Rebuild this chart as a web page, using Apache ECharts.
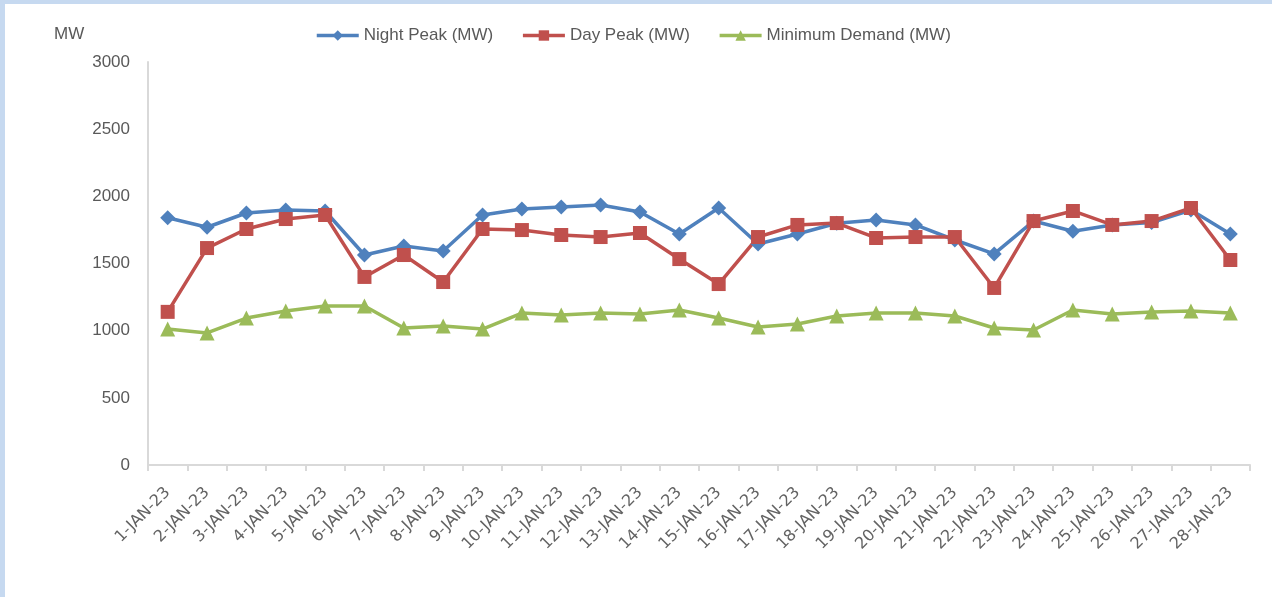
<!DOCTYPE html>
<html>
<head>
<meta charset="utf-8">
<script src="https://cdn.jsdelivr.net/npm/echarts@6/dist/echarts.min.js"></script>
<style>
  html, body { margin: 0; padding: 0; background: #ffffff; }
  .frame {
    width: 1267px;
    height: 593px;
    border-top: 4px solid #c6d9f0;
    border-left: 5px solid #c6d9f0;
    background: #ffffff;
  }
  #chart { width: 1267px; height: 593px; }
</style>
</head>
<body>
<div class="frame"><div id="chart"></div></div>
<script>
const days = [
  '1-JAN-23', '2-JAN-23', '3-JAN-23', '4-JAN-23', '5-JAN-23', '6-JAN-23', '7-JAN-23',
  '8-JAN-23', '9-JAN-23', '10-JAN-23', '11-JAN-23', '12-JAN-23', '13-JAN-23', '14-JAN-23',
  '15-JAN-23', '16-JAN-23', '17-JAN-23', '18-JAN-23', '19-JAN-23', '20-JAN-23', '21-JAN-23',
  '22-JAN-23', '23-JAN-23', '24-JAN-23', '25-JAN-23', '26-JAN-23', '27-JAN-23', '28-JAN-23'
]

const nightPeak = [
  1840, 1770, 1876, 1898, 1891, 1563, 1630, 1593, 1861, 1906, 1920, 1935, 1883, 1720,
  1913, 1645, 1720, 1800, 1824, 1787, 1675, 1571, 1816, 1740, 1787, 1805, 1898, 1720
]

const dayPeak = [
  1140, 1615, 1757, 1831, 1861, 1400, 1563, 1362, 1757, 1749, 1712, 1697, 1727, 1533,
  1347, 1697, 1787, 1801, 1690, 1697, 1697, 1318, 1816, 1891, 1787, 1816, 1913, 1526
]

const minDemand = [
  1012, 983, 1094, 1146, 1184, 1184, 1020, 1035, 1012, 1131, 1117, 1131, 1124, 1154,
  1094, 1027, 1050, 1109, 1131, 1131, 1109, 1020, 1005, 1154, 1124, 1139, 1146, 1131
]

const yTicks = [0, 500, 1000, 1500, 2000, 2500, 3000]

const chart = echarts.init(document.getElementById('chart'))

const font = 'Liberation Sans'

const makeSeries = (name, data, color, symbol, size) => ({
  name: name,
  type: 'line',
  data: data,
  symbol: symbol,
  symbolSize: size,
  lineStyle: { color: color, width: 3.5 },
  itemStyle: { color: color },
  emphasis: { disabled: true }
})

const option = {
  animation: false,
  textStyle: { fontFamily: font },
  title: {
    text: 'MW',
    left: 44,
    top: 17,
    textStyle: { fontSize: 17, fontWeight: 'normal', color: '#595959', fontFamily: font }
  },
  legend: {
    top: 18,
    left: 305,
    itemWidth: 42,
    itemHeight: 13,
    itemGap: 28,
    lineStyle: { width: 3.5 },
    textStyle: { fontSize: 17, color: '#595959', fontFamily: font },
    data: ['Night Peak (MW)', 'Day Peak (MW)', 'Minimum Demand (MW)']
  },
  grid: {
    left: 143,
    top: 58,
    right: 22,
    bottom: 132
  },
  xAxis: {
    type: 'category',
    data: days,
    boundaryGap: true,
    axisLine: { lineStyle: { color: '#d9d9d9', width: 2 } },
    axisTick: { show: true, length: 6, lineStyle: { color: '#d9d9d9', width: 2 } },
    axisLabel: {
      rotate: 45,
      interval: 0,
      fontSize: 16,
      color: '#636363',
      margin: 25,
      fontFamily: 'DejaVu Sans'
    },
    splitLine: { show: false }
  },
  yAxis: {
    type: 'value',
    min: yTicks[0],
    max: yTicks[yTicks.length - 1],
    interval: 500,
    axisLine: { show: true, lineStyle: { color: '#d9d9d9', width: 2 } },
    axisTick: { show: false },
    axisLabel: {
      fontSize: 17,
      color: '#595959',
      margin: 18,
      fontFamily: font,
      formatter: (v) => String(v)
    },
    splitLine: { show: false }
  },
  series: [
    makeSeries('Night Peak (MW)', nightPeak, '#4f81bd', 'diamond', 15),
    makeSeries('Day Peak (MW)', dayPeak, '#c0504d', 'rect', 14),
    makeSeries('Minimum Demand (MW)', minDemand, '#9bbb59', 'triangle', 15)
  ]
}

chart.setOption(option)
</script>
</body>
</html>
